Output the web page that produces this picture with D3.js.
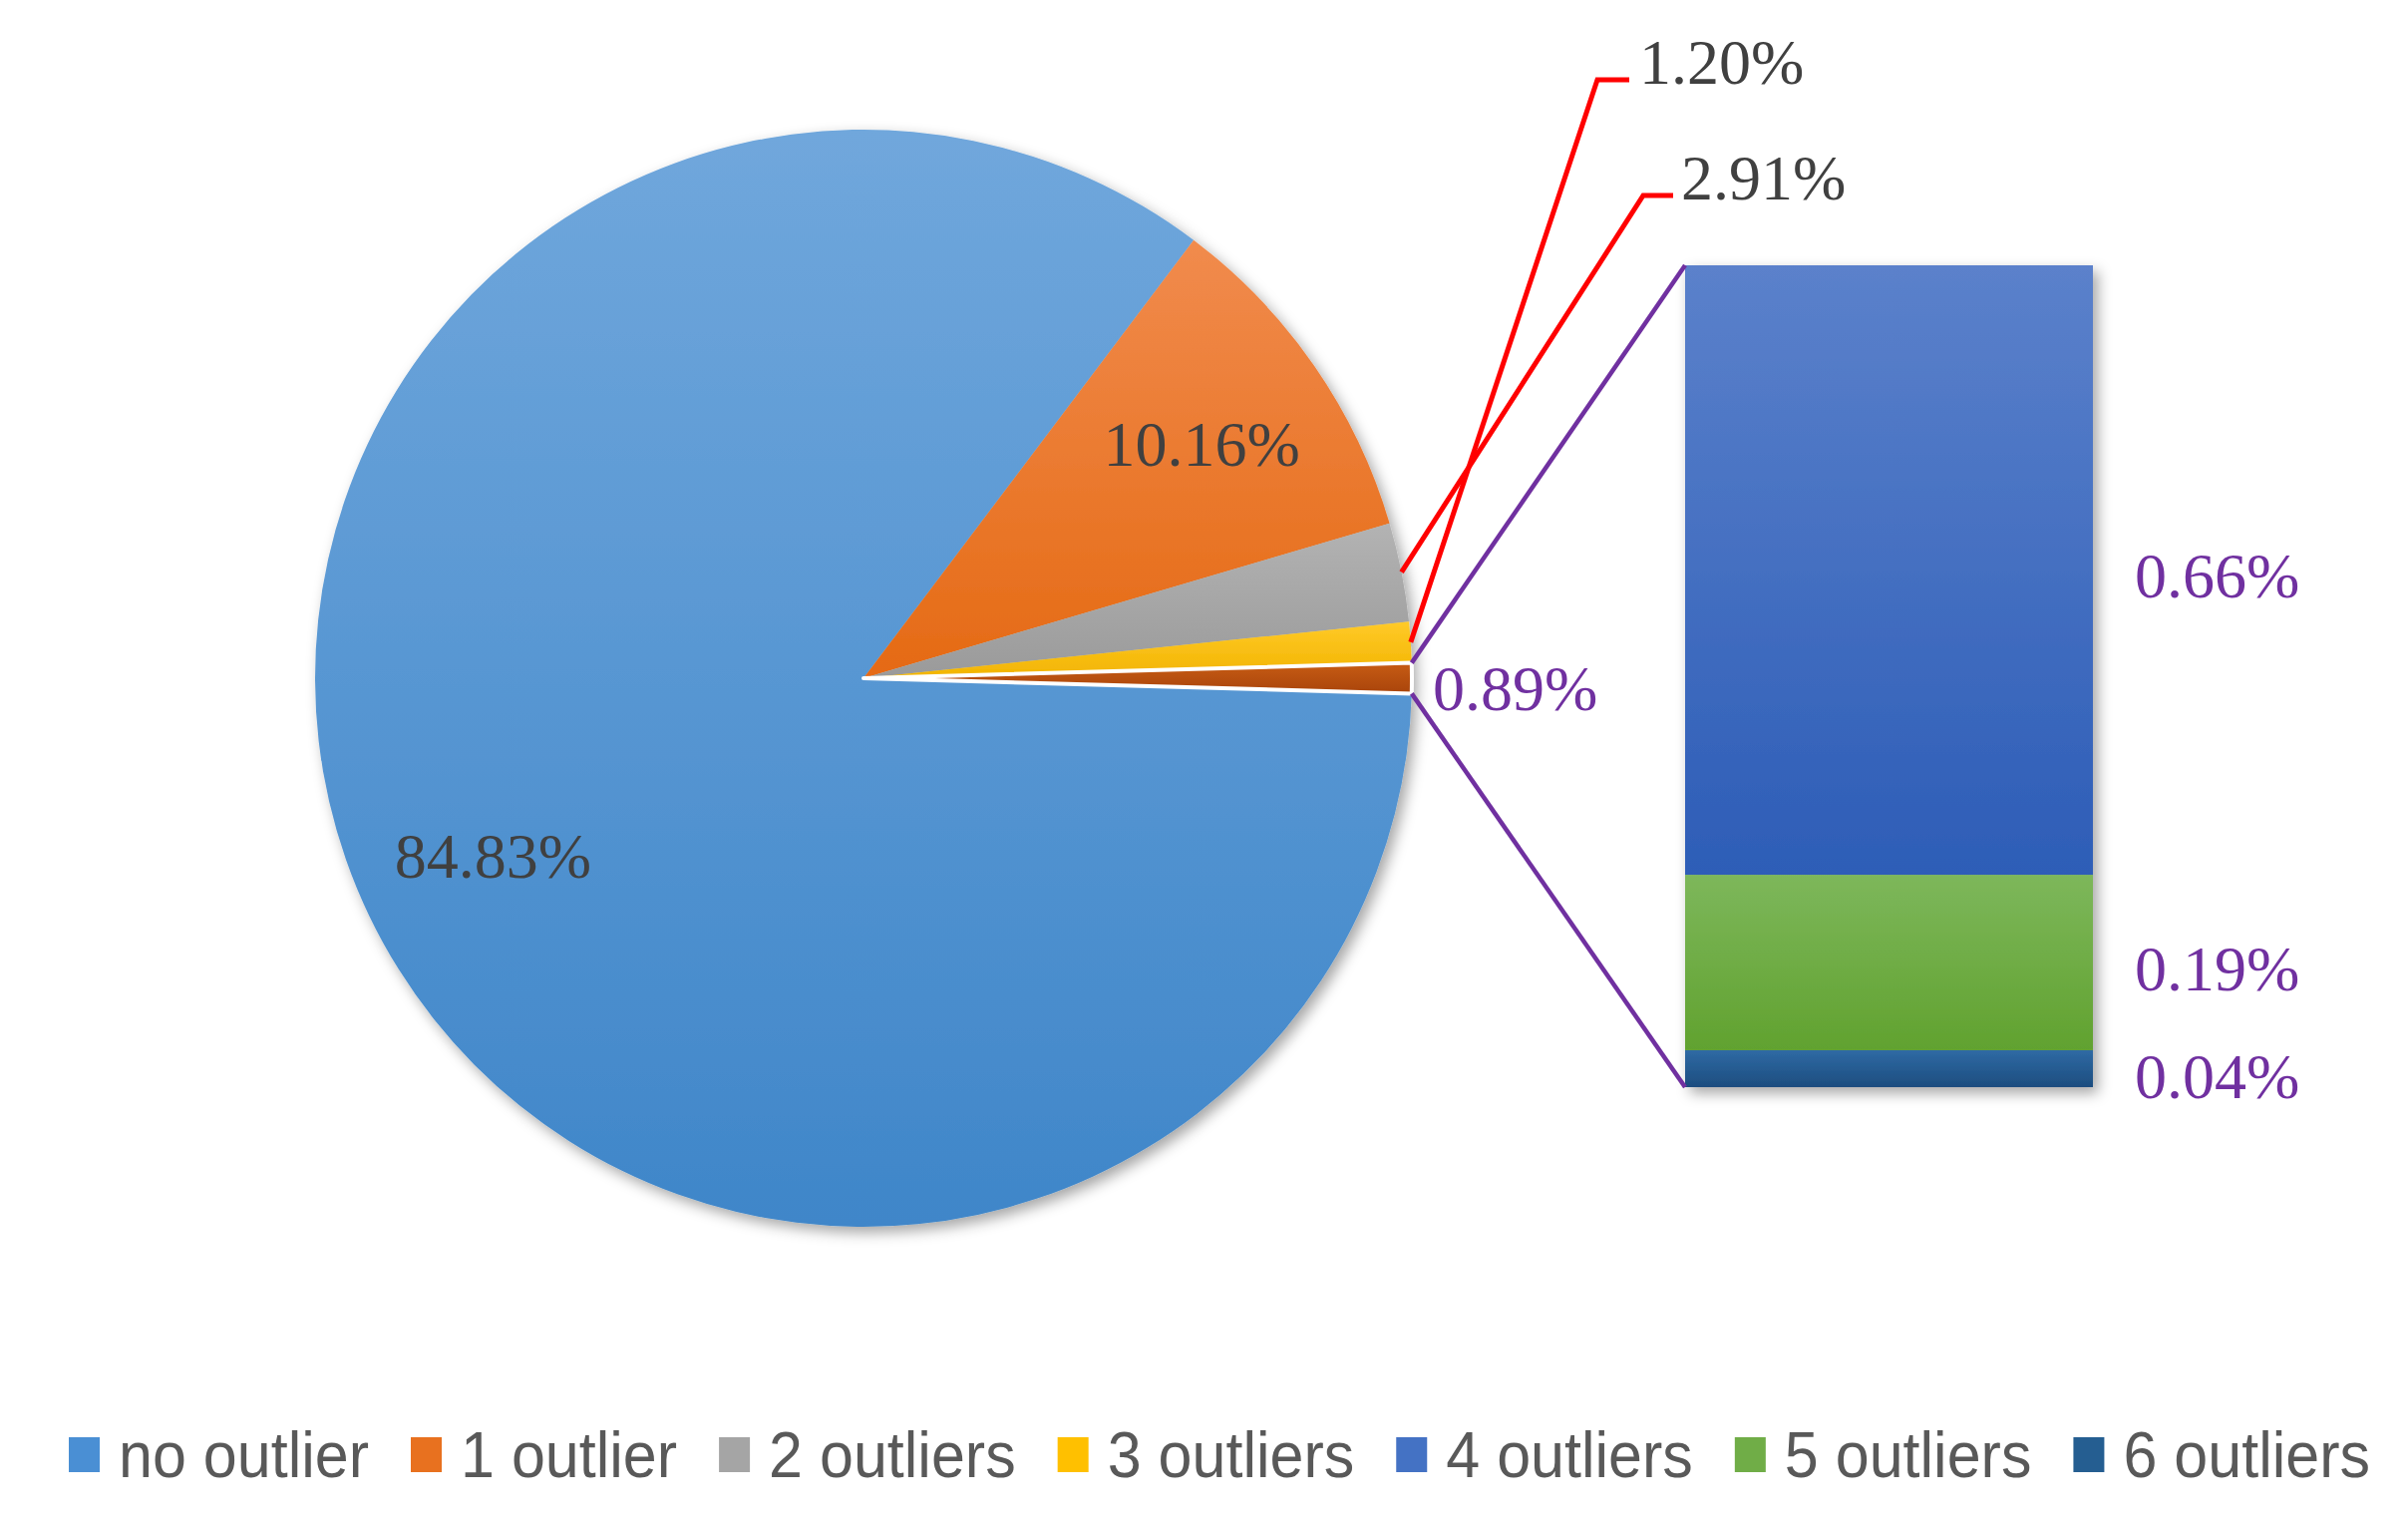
<!DOCTYPE html>
<html><head><meta charset="utf-8">
<script src="https://cdn.jsdelivr.net/npm/d3@7"></script>
<style>body{margin:0;background:#fff;}svg{display:block;}</style>
</head><body>
<svg id="chart" width="2415" height="1530"></svg>
<script>
// ---- data ----
const pieCategories = ["no outlier", "1 outlier", "2 outliers", "3 outliers", "other"];
const pieValues = [84.83, 10.16, 2.91, 1.20, 0.89];
const pieLabels = ["84.83%", "10.16%", "2.91%", "1.20%", "0.89%"];
const barCategories = ["4 outliers", "5 outliers", "6 outliers"];
const barValues = [0.66, 0.19, 0.04];
const barLabels = ["0.66%", "0.19%", "0.04%"];
const legendCategories = ["no outlier", "1 outlier", "2 outliers", "3 outliers", "4 outliers", "5 outliers", "6 outliers"];

// ---- styles ----
const grad = {
  "no outlier": ["#6fa7dd", "#3e86c9"],
  "1 outlier": ["#f18b4d", "#e56a14"],
  "2 outliers": ["#b3b3b3", "#9a9a9a"],
  "3 outliers": ["#ffca28", "#f2b400"],
  "other": ["#c75c14", "#a9440b"],
  "4 outliers": ["#5b81cb", "#2d5db7"],
  "5 outliers": ["#7db75b", "#61a22f"],
  "6 outliers": ["#2f6aa4", "#1c4d7f"]
};
const legendColor = {
  "no outlier": "#4a8fd4", "1 outlier": "#e8711f", "2 outliers": "#a5a5a5",
  "3 outliers": "#ffc000", "4 outliers": "#4472c4", "5 outliers": "#70ad47", "6 outliers": "#255e91"
};

const svg = d3.select("#chart");
const defs = svg.append("defs");
Object.entries(grad).forEach(([k, c], i) => {
  const g = defs.append("linearGradient").attr("id", "g" + i)
    .attr("x1", 0).attr("y1", 0).attr("x2", 0).attr("y2", 1);
  g.append("stop").attr("offset", "0%").attr("stop-color", c[0]);
  g.append("stop").attr("offset", "100%").attr("stop-color", c[1]);
  grad[k].id = "g" + i;
});
const pieGradFull = defs.append("linearGradient").attr("id", "pieFull")
  .attr("gradientUnits", "userSpaceOnUse").attr("x1", 0).attr("y1", -550).attr("x2", 0).attr("y2", 550);
pieGradFull.append("stop").attr("offset", "0%").attr("stop-color", "#70a7dc");
pieGradFull.append("stop").attr("offset", "100%").attr("stop-color", "#3f86c9");

const sh = defs.append("filter").attr("id", "shadow").attr("x", "-10%").attr("y", "-10%").attr("width", "125%").attr("height", "125%");
sh.append("feDropShadow").attr("dx", 5).attr("dy", 6).attr("stdDeviation", 7)
  .attr("flood-color", "#000").attr("flood-opacity", 0.35);

const fill = k => k === "no outlier" ? "url(#pieFull)" : `url(#${grad[k].id})`;

// ---- pie ----
const cx = 866, cy = 680, R = 550;
const otherFrac = pieValues[4] / d3.sum(pieValues);
const start = Math.PI / 2 + otherFrac * Math.PI; // other slice centred at 3 o'clock
const pie = d3.pie().sort(null).startAngle(start).endAngle(start + 2 * Math.PI);
const arcs = pie(pieValues)
  .map((a, i) => Object.assign(a, {k: pieCategories[i], label: pieLabels[i]}));
const arc = d3.arc().innerRadius(0).outerRadius(R);
const gPie = svg.append("g").attr("transform", `translate(${cx},${cy})`);
gPie.append("g").attr("filter", "url(#shadow)").selectAll("path").data(arcs).join("path")
  .attr("d", arc).attr("fill", d => fill(d.k));
// other slice on top with white outline
gPie.append("path").datum(arcs[4]).attr("d", arc).attr("fill", fill("other"))
  .attr("stroke", "#fff").attr("stroke-width", 4).attr("stroke-linejoin", "round");

const FS = 64;
const labelArc = d3.arc().innerRadius(R * 0.75).outerRadius(R * 0.75);
const serif = "'Liberation Serif','Times New Roman',serif";
gPie.selectAll("text.in").data(arcs.slice(0, 2)).join("text").attr("class", "in")
  .attr("x", d => labelArc.centroid(d)[0]).attr("y", d => labelArc.centroid(d)[1])
  .attr("text-anchor", "middle").attr("dominant-baseline", "central")
  .attr("font-family", serif).attr("font-size", FS).attr("fill", "#404040")
  .text(d => d.label);

// leader lines for small slices
const edge = a => [cx + R * Math.sin(a), cy - R * Math.cos(a)];
const leaders = [
  {i: 3, elbow: [1602, 80], end: [1634, 80], tx: 1644, ty: 62},
  {i: 2, elbow: [1648, 196], end: [1678, 196], tx: 1686, ty: 178}
];
leaders.forEach(L => {
  const a = arcs[L.i];
  const p0 = edge((a.startAngle + a.endAngle) / 2);
  svg.append("polyline").attr("points", [p0, L.elbow, L.end].map(p => p.join(",")).join(" "))
    .attr("fill", "none").attr("stroke", "#ff0000").attr("stroke-width", 5);
  svg.append("text").attr("x", L.tx).attr("y", L.ty).attr("dominant-baseline", "central")
    .attr("font-family", serif).attr("font-size", FS).attr("fill", "#404040").text(a.label);
});

// ---- bar of pie ----
const barX = 1690, barW = 409;
const y = d3.scaleLinear().domain([0, d3.sum(barValues)]).range([1090, 266]);
let acc = 0;
const stack = barValues.slice().reverse().map((v, j) => {
  const i = barValues.length - 1 - j;
  const s = {k: barCategories[i], y0: acc, y1: acc + v, label: barLabels[i]};
  acc += v; return s;
});
svg.append("g").attr("filter", "url(#shadow)").selectAll("rect").data(stack).join("rect")
  .attr("x", barX).attr("width", barW)
  .attr("y", d => y(d.y1)).attr("height", d => y(d.y0) - y(d.y1))
  .attr("fill", d => `url(#${grad[d.k].id})`);
svg.selectAll("text.bl").data(stack).join("text").attr("class", "bl")
  .attr("x", barX + barW + 42).attr("y", d => (y(d.y0) + y(d.y1)) / 2 + (d.k === "6 outliers" ? 8 : 6))
  .attr("dominant-baseline", "central").attr("font-family", serif).attr("font-size", FS)
  .attr("fill", "#7030a0").text(d => d.label);

// connector lines
const oth = arcs[4];
const pTop = edge(oth.startAngle), pBot = edge(oth.endAngle);
svg.append("line").attr("x1", pTop[0]).attr("y1", pTop[1]).attr("x2", barX).attr("y2", y(d3.sum(barValues)))
  .attr("stroke", "#7030a0").attr("stroke-width", 4.5);
svg.append("line").attr("x1", pBot[0]).attr("y1", pBot[1]).attr("x2", barX).attr("y2", y(0))
  .attr("stroke", "#7030a0").attr("stroke-width", 4.5);
svg.append("text").attr("x", 1437).attr("y", 690).attr("dominant-baseline", "central")
  .attr("font-family", serif).attr("font-size", FS).attr("fill", "#7030a0").text(oth.label);

// ---- legend ----
const lg = svg.append("g");
const sans = "'Liberation Sans Narrow','Liberation Sans',Arial,sans-serif";
const items = lg.selectAll("g").data(legendCategories).join("g");
items.append("rect").attr("width", 31).attr("height", 35).attr("fill", d => legendColor[d]);
const texts = items.append("text").attr("x", 50).attr("y", 18).attr("dominant-baseline", "central")
  .attr("font-family", sans).attr("font-size", 64).attr("fill", "#595959").text(d => d);
const widths = texts.nodes().map(n => n.getComputedTextLength());
const targetSum = 2308 - 7 * 50 - 6 * 42;
const kf = targetSum / d3.sum(widths);
texts.attr("textLength", (d, i) => widths[i] * kf).attr("lengthAdjust", "spacingAndGlyphs");
let lx = 69;
items.attr("transform", (d, i) => { const t = `translate(${lx},1441)`; lx += 50 + widths[i] * kf + 42; return t; });
</script>
</body></html>
